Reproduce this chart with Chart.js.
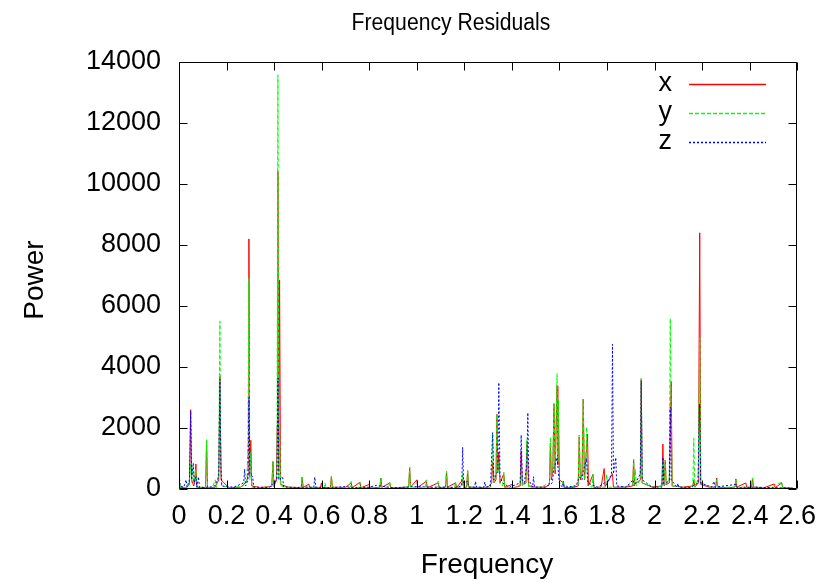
<!DOCTYPE html>
<html>
<head>
<meta charset="utf-8">
<title>Frequency Residuals</title>
<script src="https://cdn.jsdelivr.net/npm/chart.js@4.4.1/dist/chart.umd.min.js"></script>
<style>
  html, body { margin: 0; padding: 0; background: #fff; }
  #wrap { width: 827px; height: 582px; }
</style>
</head>
<body>
<div id="wrap"><canvas id="residualsChart" width="827" height="582"></canvas></div>
<script>
// Periodogram of the x / y / z residuals: [frequency, power]
const seriesX = [
  [0.000, 300], [0.006, 50], [0.030, 40], [0.044, 150], [0.049, 2600], [0.053, 300], [0.062, 100], [0.066, 200],
  [0.071, 820], [0.075, 60], [0.100, 40], [0.112, 60], [0.116, 1600], [0.120, 50], [0.150, 40], [0.167, 300],
  [0.172, 3700], [0.177, 300], [0.210, 40], [0.260, 60], [0.272, 150], [0.285, 250], [0.291, 500], [0.294, 8200],
  [0.297, 400], [0.302, 1600], [0.306, 100], [0.340, 50], [0.390, 80], [0.395, 900], [0.399, 80], [0.410, 300],
  [0.413, 2100], [0.416, 10400], [0.419, 600], [0.423, 6850], [0.427, 150], [0.460, 60], [0.500, 50], [0.514, 50],
  [0.518, 390], [0.522, 50], [0.546, 160], [0.550, 40], [0.595, 50], [0.599, 200], [0.603, 40], [0.637, 50],
  [0.641, 420], [0.645, 60], [0.700, 50], [0.724, 200], [0.728, 40], [0.761, 220], [0.765, 40], [0.800, 150],
  [0.804, 40], [0.845, 50], [0.849, 360], [0.853, 50], [0.886, 200], [0.890, 40], [0.930, 50], [0.966, 60],
  [0.970, 700], [0.974, 60], [1.000, 300], [1.004, 50], [1.040, 250], [1.044, 40], [1.090, 200], [1.094, 40],
  [1.121, 60], [1.125, 570], [1.129, 60], [1.163, 200], [1.167, 40], [1.193, 300], [1.197, 50], [1.210, 60],
  [1.214, 600], [1.218, 60], [1.270, 50], [1.300, 60], [1.315, 200], [1.319, 900], [1.325, 200], [1.333, 300],
  [1.337, 2450], [1.341, 600], [1.345, 1200], [1.350, 200], [1.366, 500], [1.370, 50], [1.400, 150], [1.404, 40],
  [1.435, 100], [1.439, 1250], [1.444, 150], [1.459, 200], [1.463, 1500], [1.467, 900], [1.471, 100], [1.500, 60],
  [1.540, 60], [1.558, 150], [1.562, 1500], [1.566, 300], [1.572, 600], [1.577, 2800], [1.582, 500], [1.590, 3380],
  [1.593, 800], [1.595, 2900], [1.600, 300], [1.616, 200], [1.620, 40], [1.660, 50], [1.679, 100], [1.683, 1700],
  [1.688, 300], [1.695, 500], [1.700, 2950], [1.705, 300], [1.718, 1800], [1.722, 100], [1.741, 480], [1.745, 50],
  [1.775, 60], [1.788, 670], [1.792, 80], [1.823, 500], [1.827, 60], [1.880, 60], [1.908, 100], [1.912, 950],
  [1.916, 150], [1.940, 300], [1.944, 3600], [1.948, 200], [1.990, 60], [2.031, 100], [2.035, 1475], [2.039, 150],
  [2.045, 950], [2.049, 150], [2.062, 200], [2.070, 3520], [2.074, 100], [2.120, 60], [2.161, 100], [2.165, 300],
  [2.170, 60], [2.183, 200], [2.186, 2800], [2.190, 8400], [2.194, 150], [2.230, 60], [2.257, 60], [2.261, 360],
  [2.265, 60], [2.300, 40], [2.338, 60], [2.342, 330], [2.346, 60], [2.384, 200], [2.388, 40], [2.408, 60],
  [2.412, 360], [2.416, 60], [2.460, 40], [2.503, 165], [2.507, 40], [2.535, 200], [2.539, 40], [2.580, 30]
];

const seriesY = [
  [0.000, 150], [0.010, 40], [0.040, 60], [0.046, 500], [0.049, 800], [0.053, 200], [0.058, 700], [0.062, 150],
  [0.071, 650], [0.075, 60], [0.112, 60], [0.116, 1620], [0.120, 60], [0.140, 50], [0.153, 300], [0.157, 40],
  [0.167, 500], [0.172, 5500], [0.175, 1500], [0.179, 100], [0.220, 40], [0.270, 100], [0.286, 300], [0.290, 1500],
  [0.294, 6900], [0.298, 300], [0.302, 1200], [0.306, 60], [0.350, 40], [0.391, 100], [0.395, 900], [0.399, 100],
  [0.412, 500], [0.416, 13580], [0.420, 300], [0.423, 2000], [0.427, 100], [0.480, 40], [0.514, 50], [0.518, 380],
  [0.522, 60], [0.610, 50], [0.614, 200], [0.618, 40], [0.637, 50], [0.641, 420], [0.645, 60], [0.700, 40],
  [0.720, 50], [0.724, 250], [0.728, 50], [0.757, 50], [0.761, 220], [0.765, 40], [0.845, 60], [0.849, 360],
  [0.853, 60], [0.882, 50], [0.886, 260], [0.890, 40], [0.966, 60], [0.970, 720], [0.974, 60], [1.036, 50],
  [1.040, 300], [1.044, 40], [1.086, 50], [1.090, 260], [1.094, 40], [1.121, 60], [1.125, 570], [1.129, 60],
  [1.159, 50], [1.163, 230], [1.167, 40], [1.189, 60], [1.193, 500], [1.197, 60], [1.210, 60], [1.214, 640],
  [1.218, 60], [1.280, 50], [1.310, 60], [1.315, 300], [1.319, 1800], [1.324, 200], [1.333, 400], [1.337, 2450],
  [1.341, 500], [1.345, 900], [1.350, 150], [1.362, 100], [1.366, 550], [1.370, 60], [1.420, 50], [1.435, 150],
  [1.439, 700], [1.444, 100], [1.459, 200], [1.463, 1630], [1.467, 300], [1.471, 60], [1.520, 50], [1.558, 200],
  [1.562, 1700], [1.566, 400], [1.572, 700], [1.577, 2800], [1.582, 600], [1.590, 3780], [1.593, 900], [1.595, 2940],
  [1.600, 300], [1.640, 40], [1.679, 150], [1.683, 1770], [1.688, 400], [1.695, 600], [1.700, 2950], [1.705, 300],
  [1.710, 400], [1.714, 2030], [1.719, 100], [1.737, 60], [1.741, 480], [1.745, 50], [1.794, 60], [1.798, 480],
  [1.802, 60], [1.860, 50], [1.908, 150], [1.912, 984], [1.916, 200], [1.919, 650], [1.923, 100], [1.940, 300],
  [1.944, 3660], [1.948, 200], [2.000, 50], [2.031, 100], [2.035, 900], [2.039, 100], [2.045, 950], [2.049, 200],
  [2.062, 300], [2.066, 5590], [2.070, 2500], [2.074, 100], [2.130, 50], [2.161, 60], [2.165, 1660], [2.169, 60],
  [2.183, 300], [2.187, 2800], [2.190, 4950], [2.194, 200], [2.240, 50], [2.257, 60], [2.261, 300], [2.265, 60],
  [2.338, 60], [2.342, 330], [2.346, 60], [2.408, 60], [2.412, 360], [2.416, 60], [2.480, 40], [2.535, 220],
  [2.539, 40], [2.580, 30]
];

const seriesZ = [
  [0.000, 850], [0.004, 100], [0.020, 60], [0.030, 300], [0.034, 60], [0.044, 300], [0.049, 2550], [0.053, 300],
  [0.060, 850], [0.064, 200], [0.071, 400], [0.075, 60], [0.082, 400], [0.086, 50], [0.130, 60], [0.150, 100],
  [0.167, 400], [0.172, 3600], [0.176, 800], [0.180, 100], [0.230, 60], [0.272, 200], [0.276, 650], [0.280, 100],
  [0.290, 300], [0.294, 3000], [0.298, 500], [0.310, 400], [0.314, 60], [0.380, 50], [0.412, 300], [0.416, 3640],
  [0.420, 300], [0.436, 400], [0.440, 60], [0.500, 50], [0.530, 60], [0.567, 60], [0.571, 390], [0.575, 60],
  [0.640, 40], [0.700, 80], [0.740, 40], [0.800, 60], [0.830, 120], [0.900, 40], [1.000, 80], [1.060, 60],
  [1.120, 60], [1.160, 50], [1.189, 100], [1.193, 1370], [1.197, 200], [1.214, 250], [1.218, 60], [1.243, 60],
  [1.247, 250], [1.251, 60], [1.282, 60], [1.286, 230], [1.290, 60], [1.310, 100], [1.319, 1850], [1.324, 300],
  [1.330, 400], [1.341, 600], [1.345, 3490], [1.350, 400], [1.360, 200], [1.390, 60], [1.435, 200], [1.439, 1770],
  [1.444, 300], [1.452, 200], [1.463, 800], [1.467, 2500], [1.471, 300], [1.487, 60], [1.491, 400], [1.495, 60],
  [1.540, 60], [1.570, 200], [1.577, 700], [1.590, 1030], [1.595, 600], [1.600, 200], [1.612, 60], [1.616, 260],
  [1.620, 60], [1.670, 100], [1.683, 400], [1.695, 300], [1.700, 600], [1.714, 1000], [1.719, 200], [1.760, 60],
  [1.790, 200], [1.800, 150], [1.819, 500], [1.823, 4745], [1.827, 500], [1.837, 1030], [1.841, 100], [1.880, 60],
  [1.910, 300], [1.914, 100], [1.940, 500], [1.944, 3550], [1.948, 300], [1.990, 60], [2.031, 60], [2.035, 1040],
  [2.039, 100], [2.062, 300], [2.066, 2680], [2.070, 300], [2.094, 60], [2.098, 185], [2.102, 60], [2.150, 50],
  [2.183, 200], [2.189, 2790], [2.194, 200], [2.240, 60], [2.250, 250], [2.254, 60], [2.342, 150], [2.346, 50],
  [2.420, 60], [2.580, 30]
];

const seriesNames = ["x", "y", "z"];
const xTicks = [0, 0.2, 0.4, 0.6, 0.8, 1, 1.2, 1.4, 1.6, 1.8, 2, 2.2, 2.4, 2.6];
const xTickLabels = ["0", "0.2", "0.4", "0.6", "0.8", "1", "1.2", "1.4", "1.6", "1.8", "2", "2.2", "2.4", "2.6"];
const yTicks = [0, 2000, 4000, 6000, 8000, 10000, 12000, 14000];
const yTickLabels = ["0", "2000", "4000", "6000", "8000", "10000", "12000", "14000"];

const FONT = "'Liberation Sans', Arial, sans-serif";
const lineStyles = [
  { color: "#ff0000", dash: [] },
  { color: "#00ff00", dash: [4, 2] },
  { color: "#0000ff", dash: [2, 2] }
];

// gnuplot style frame: border box, inward ticks on all sides, titles and key
const gnuplotFrame = {
  id: "gnuplotFrame",
  afterDraw(chart) {
    const { ctx, chartArea: a, scales } = chart;
    const L = Math.round(a.left) + 0.5, R = Math.round(a.right) - 0.5;
    const T = Math.round(a.top) + 0.5, B = Math.round(a.bottom) - 0.5;
    const tick = 8;
    ctx.save();
    ctx.strokeStyle = "#000";
    ctx.lineWidth = 1;
    ctx.setLineDash([]);
    ctx.beginPath();
    ctx.rect(L, T, R - L, B - T);
    xTicks.forEach(v => {
      const px = Math.round(scales.x.getPixelForValue(v)) + 0.5;
      ctx.moveTo(px, B); ctx.lineTo(px, B - tick);
      ctx.moveTo(px, T); ctx.lineTo(px, T + tick);
    });
    yTicks.forEach(v => {
      const py = Math.round(scales.y.getPixelForValue(v)) + 0.5;
      ctx.moveTo(L, py); ctx.lineTo(L + tick, py);
      ctx.moveTo(R, py); ctx.lineTo(R - tick, py);
    });
    ctx.stroke();

    ctx.fillStyle = "#000";
    // title
    ctx.save();
    ctx.font = "23px " + FONT;
    ctx.textAlign = "center";
    ctx.textBaseline = "alphabetic";
    ctx.translate(451, 30);
    ctx.scale(0.92, 1);
    ctx.fillText("Frequency Residuals", 0, 0);
    ctx.restore();

    // axis titles
    ctx.font = "28px " + FONT;
    ctx.textAlign = "center";
    ctx.textBaseline = "alphabetic";
    ctx.fillText("Frequency", 487, 573);
    ctx.save();
    ctx.translate(43, 280);
    ctx.rotate(-Math.PI / 2);
    ctx.fillText("Power", 0, 0);
    ctx.restore();

    // key
    ctx.font = "27px " + FONT;
    ctx.textAlign = "right";
    ctx.textBaseline = "middle";
    ctx.lineWidth = 1.5;
    seriesNames.forEach((name, i) => {
      const ly = 84 + i * 29;
      ctx.fillStyle = "#000";
      ctx.fillText(name, 672, ly);
      ctx.strokeStyle = lineStyles[i].color;
      ctx.setLineDash(lineStyles[i].dash);
      ctx.beginPath();
      ctx.moveTo(689, ly + 0.5);
      ctx.lineTo(766, ly + 0.5);
      ctx.stroke();
    });
    ctx.restore();
  }
};

const ctx = document.getElementById("residualsChart").getContext("2d");
const allSeries = [seriesX, seriesY, seriesZ];

new Chart(ctx, {
  type: "line",
  data: {
    datasets: allSeries.map((s, i) => ({
      label: seriesNames[i],
      data: s.map(([f, p]) => ({ x: f, y: p })),
      borderColor: lineStyles[i].color,
      borderDash: lineStyles[i].dash,
      borderWidth: 1,
      pointRadius: 0,
      tension: 0,
      fill: false,
      order: 3 - i
    }))
  },
  options: {
    responsive: false,
    devicePixelRatio: 1,
    animation: false,
    events: [],
    layout: { padding: { left: 0, right: 27, top: 62, bottom: 0 } },
    plugins: {
      legend: { display: false },
      title: { display: false },
      tooltip: { enabled: false }
    },
    scales: {
      x: {
        type: "linear",
        min: 0,
        max: 2.6,
        grid: { display: false, drawTicks: false },
        border: { display: false },
        afterBuildTicks: s => { s.ticks = xTicks.map(v => ({ value: v })); },
        afterFit: s => { s.height = 93; },
        ticks: {
          autoSkip: false,
          maxRotation: 0,
          minRotation: 0,
          padding: 11,
          color: "#000",
          font: { family: FONT, size: 27 },
          callback: (v, i) => xTickLabels[i]
        }
      },
      y: {
        min: 0,
        max: 14000,
        grid: { display: false, drawTicks: false },
        border: { display: false },
        afterBuildTicks: s => { s.ticks = yTicks.map(v => ({ value: v })); },
        afterFit: s => { s.width = 179; },
        ticks: {
          padding: 18,
          color: "#000",
          font: { family: FONT, size: 27 },
          callback: (v, i) => yTickLabels[i]
        }
      }
    }
  },
  plugins: [gnuplotFrame]
});
</script>
</body>
</html>
